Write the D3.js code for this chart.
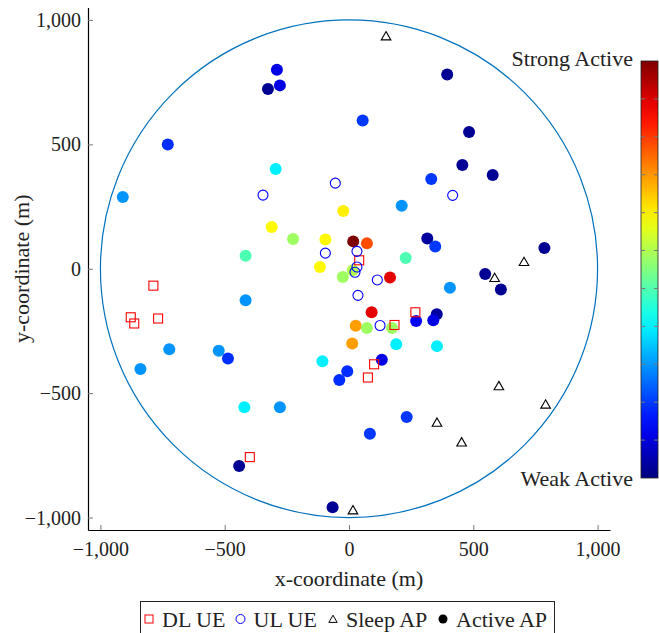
<!DOCTYPE html>
<html>
<head>
<meta charset="utf-8">
<script src="https://cdn.jsdelivr.net/npm/d3@7"></script>
<style>
  body { margin: 0; background: #fff; }
  svg text { font-family: "Liberation Serif", "Times New Roman", "DejaVu Serif", serif; fill: #222; }
</style>
</head>
<body>
<div id="viz"></div>
<script>
// Datos (metros)
const activeX = [-290, -278, -326, -729, -910, -295, -311, -225, -95, -416, -117, 395, 55, 483, 456, 578, 331, 212, -23, 17, 72, 315, 347, 786, 228, 15, -25, 165, 548, 611, 406, 91, 353, 270, 339, 27, 72, 173, 13, 190, 354, 132, -7, -39, 232, 84, -66, -416, -723, -524, -487, -839, -107, -421, -278, -442];
const activeY = [800, 737, 722, 499, 288, 401, 168, 120, 118, 52, 7, 781, 596, 550, 417, 377, 361, 253, 232, 110, 102, 122, 89, 83, 43, -6, -33, -35, -21, -83, -76, -175, -183, -210, -207, -229, -238, -238, -300, -303, -311, -366, -412, -447, -596, -663, -959, -127, -324, -330, -361, -403, -372, -557, -557, -793];
const activeLevel = [0.1, 0.1, 0.02, 0.17, 0.27, 0.36, 0.63, 0.53, 0.63, 0.45, 0.63, 0.02, 0.18, 0.02, 0.02, 0.02, 0.18, 0.27, 0.64, 1.0, 0.8, 0.03, 0.18, 0.02, 0.45, 0.55, 0.53, 0.9, 0.02, 0.02, 0.27, 0.9, 0.03, 0.12, 0.1, 0.72, 0.53, 0.53, 0.72, 0.36, 0.36, 0.1, 0.17, 0.17, 0.18, 0.18, 0.02, 0.27, 0.27, 0.27, 0.17, 0.27, 0.36, 0.36, 0.27, 0.02];

const dlX = [41, -787, -878, -864, -768, 267, 183, 101, 76, -399];
const dlY = [34, -68, -195, -220, -200, -175, -226, -384, -437, -757];

const ulX = [-346, -95, -55, 417, 32, 32, 24, 114, 36, 125];
const ulY = [296, 63, 344, 295, 70, 7, -14, -45, -107, -228];

const sleepX = [149, 704, 586, 603, 791, 354, 453, 16];
const sleepY = [935, 28, -36, -471, -545, -618, -697, -970];

const ticks = [-1000, -500, 0, 500, 1000];
const cbTicks = d3.range(1, 11).map(d => d / 11);
const legendItems = ['DL UE', 'UL UE', 'Sleep AP', 'Active AP'];

const W = 659, H = 633;
const svg = d3.select('#viz').append('svg').attr('width', W).attr('height', H);

const x = d3.scaleLinear().domain([-1050, 1050]).range([88, 610]);
const y = d3.scaleLinear().domain([-1050, 1050]).range([530, 7.5]);

// colormap jet
const jet = d3.scaleLinear()
  .domain([0, 0.125, 0.375, 0.625, 0.875, 1])
  .range(['#00007f', '#0000ff', '#00ffff', '#ffff00', '#ff0000', '#7f0000'])
  .interpolate(d3.interpolateRgb);

// ejes
const fmt = d3.format(',');
const gx = svg.append('g').attr('transform', 'translate(0,530)')
  .call(d3.axisBottom(x).tickValues(ticks).tickFormat(fmt).tickSizeInner(-5).tickSizeOuter(0).tickPadding(9));
const gy = svg.append('g').attr('transform', 'translate(88,0)')
  .call(d3.axisLeft(y).tickValues(ticks).tickFormat(fmt).tickSizeInner(-5).tickSizeOuter(0).tickPadding(7));
[gx, gy].forEach(g => {
  g.select('.domain').attr('stroke', '#000').attr('stroke-width', 1.2);
  g.selectAll('.tick line').attr('stroke', '#777');
  g.selectAll('.tick text').attr('font-size', 20).attr('fill', '#333')
    .attr('font-family', '"Liberation Serif", serif');
});
gx.selectAll('.tick text').attr('dy', '0.85em');
gy.selectAll('.tick text').attr('dy', '0.33em');

svg.append('text').attr('x', x(0)).attr('y', 586).attr('text-anchor', 'middle')
  .attr('font-size', 22).text('x-coordinate (m)');
svg.append('text').attr('transform', 'translate(29,' + y(0) + ') rotate(-90)')
  .attr('text-anchor', 'middle').attr('font-size', 22).text('y-coordinate (m)');

// círculo de cobertura
svg.append('ellipse')
  .attr('cx', x(0)).attr('cy', y(0))
  .attr('rx', x(1000) - x(0)).attr('ry', y(0) - y(1000))
  .attr('fill', 'none').attr('stroke', '#0072BD').attr('stroke-width', 1.2);

const active = activeX.map((d, i) => ({x: d, y: activeY[i], v: activeLevel[i]}));
const dl = dlX.map((d, i) => ({x: d, y: dlY[i]}));
const ul = ulX.map((d, i) => ({x: d, y: ulY[i]}));
const sleep = sleepX.map((d, i) => ({x: d, y: sleepY[i]}));

svg.append('g').selectAll('circle').data(active).enter().append('circle')
  .attr('cx', d => x(d.x)).attr('cy', d => y(d.y)).attr('r', 6)
  .attr('fill', d => jet(d.v));

const tri = d3.symbol().type(d3.symbolTriangle).size(40);
svg.append('g').selectAll('path').data(sleep).enter().append('path')
  .attr('d', tri).attr('transform', d => 'translate(' + x(d.x) + ',' + (y(d.y) + 1) + ')')
  .attr('fill', 'none').attr('stroke', '#000').attr('stroke-width', 1.1);

svg.append('g').selectAll('rect').data(dl).enter().append('rect')
  .attr('x', d => x(d.x) - 4.5).attr('y', d => y(d.y) - 4.5).attr('width', 9).attr('height', 9)
  .attr('fill', 'none').attr('stroke', '#ff0000').attr('stroke-width', 1.1);

svg.append('g').selectAll('circle').data(ul).enter().append('circle')
  .attr('cx', d => x(d.x)).attr('cy', d => y(d.y)).attr('r', 5)
  .attr('fill', 'none').attr('stroke', '#0000ff').attr('stroke-width', 1.1);

// barra de color
const cb = {x: 641, y: 61, w: 17, h: 417};
const grad = svg.append('defs').append('linearGradient').attr('id', 'jetgrad')
  .attr('x1', 0).attr('y1', 1).attr('x2', 0).attr('y2', 0);
d3.range(0, 1.0001, 0.05).forEach(t => {
  grad.append('stop').attr('offset', t).attr('stop-color', jet(t));
});
svg.append('rect').attr('x', cb.x).attr('y', cb.y).attr('width', cb.w).attr('height', cb.h)
  .attr('fill', 'url(#jetgrad)').attr('stroke', '#222').attr('stroke-width', 0.8);
const cbScale = d3.scaleLinear().domain([0, 1]).range([cb.y + cb.h, cb.y]);
svg.append('g').selectAll('line.l').data(cbTicks).enter().append('line')
  .attr('x1', cb.x).attr('x2', cb.x + 4).attr('y1', d => cbScale(d)).attr('y2', d => cbScale(d))
  .attr('stroke', '#777');
svg.append('g').selectAll('line.r').data(cbTicks).enter().append('line')
  .attr('x1', cb.x + cb.w - 4).attr('x2', cb.x + cb.w).attr('y1', d => cbScale(d)).attr('y2', d => cbScale(d))
  .attr('stroke', '#777');

svg.append('text').attr('x', 633).attr('y', 66).attr('text-anchor', 'end').attr('font-size', 22).text('Strong Active');
svg.append('text').attr('x', 633).attr('y', 486).attr('text-anchor', 'end').attr('font-size', 22).text('Weak Active');

// leyenda
const lg = svg.append('g');
lg.append('rect').attr('x', 140.5).attr('y', 601.5).attr('width', 414).attr('height', 40)
  .attr('fill', '#fff').attr('stroke', '#222').attr('stroke-width', 1);
const lgPos = [149, 240.5, 333, 443];
legendItems.forEach((name, i) => {
  const cx = lgPos[i], cy = 619;
  if (i === 0) lg.append('rect').attr('x', cx - 4).attr('y', cy - 4).attr('width', 8).attr('height', 8)
    .attr('fill', 'none').attr('stroke', '#ff0000');
  if (i === 1) lg.append('circle').attr('cx', cx).attr('cy', cy).attr('r', 4.5)
    .attr('fill', 'none').attr('stroke', '#0000ff');
  if (i === 2) lg.append('path').attr('d', d3.symbol().type(d3.symbolTriangle).size(30))
    .attr('transform', 'translate(' + cx + ',' + (cy + 1) + ')').attr('fill', 'none').attr('stroke', '#000');
  if (i === 3) lg.append('circle').attr('cx', cx).attr('cy', cy).attr('r', 4.5).attr('fill', '#000');
  lg.append('text').attr('x', cx + 13).attr('y', 627).attr('font-size', 22).text(name);
});
</script>
</body>
</html>
